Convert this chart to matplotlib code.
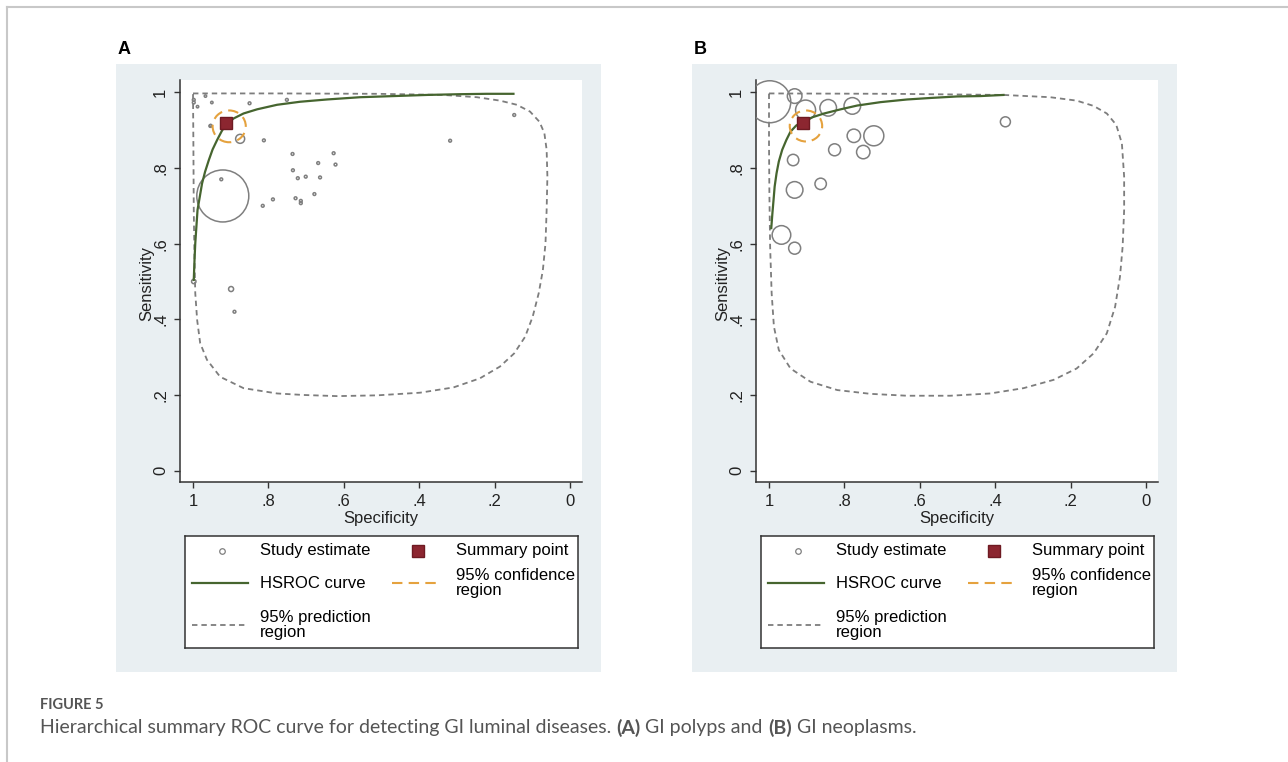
import numpy as np
import matplotlib
matplotlib.use('Agg')
import matplotlib.pyplot as plt
from matplotlib.lines import Line2D
from matplotlib.patches import Rectangle, Ellipse, Polygon

plt.rcParams['font.family'] = ['Liberation Sans', 'DejaVu Sans']

W, H = 1288, 762

# %% data -- panel A (GI polyps)
a_study_spec = [0.921, 0.875, 0.899, 0.998, 0.890, 0.925, 0.815, 0.788, 0.812, 0.736,
                0.735, 0.722, 0.701, 0.728, 0.714, 0.714, 0.678, 0.668, 0.663, 0.627,
                0.622, 0.318, 0.148, 0.751, 0.850, 0.954, 0.998, 0.998, 0.967, 0.988,
                0.950, 0.953]
a_study_sens = [0.726, 0.877, 0.480, 0.500, 0.420, 0.770, 0.700, 0.717, 0.873, 0.837,
                0.794, 0.773, 0.777, 0.720, 0.713, 0.707, 0.731, 0.813, 0.775, 0.839,
                0.809, 0.872, 0.940, 0.980, 0.971, 0.911, 0.980, 0.973, 0.990, 0.962,
                0.973, 0.912]
a_study_radius = [26, 4.5, 2.5, 2.2, 1.4, 1.4, 1.4, 1.4, 1.4, 1.4,
                  1.4, 1.4, 1.4, 1.4, 1.4, 1.4, 1.4, 1.4, 1.4, 1.4,
                  1.4, 1.4, 1.4, 1.4, 1.4, 1.4, 1.4, 1.4, 1.2, 1.2,
                  1.2, 1.2]

a_summary = (0.912, 0.918)
a_conf = (0.904, 0.910, 0.088, 0.084)  # centre x, centre y, width, height

a_curve_spec = [0.998, 0.996, 0.994, 0.991, 0.988, 0.982, 0.976, 0.968, 0.958, 0.948,
                0.936, 0.924, 0.912, 0.892, 0.866, 0.830, 0.777, 0.716, 0.645, 0.557,
                0.468, 0.380, 0.292, 0.221, 0.150]
a_curve_sens = [0.504, 0.557, 0.601, 0.645, 0.689, 0.724, 0.759, 0.790, 0.821, 0.849,
                0.874, 0.897, 0.916, 0.931, 0.944, 0.955, 0.967, 0.975, 0.981, 0.987,
                0.990, 0.993, 0.995, 0.996, 0.996]

a_pred_spec = [1.000, 0.777, 0.512, 0.336, 0.247, 0.186, 0.141, 0.106, 0.081, 0.068,
               0.062, 0.060, 0.062, 0.065, 0.072, 0.083, 0.099, 0.119, 0.148, 0.186,
               0.239, 0.309, 0.398, 0.512, 0.618, 0.707, 0.777, 0.866, 0.928, 0.963,
               0.981, 0.989, 0.994, 0.996, 0.998, 0.999]
a_pred_sens = [0.997, 0.997, 0.996, 0.993, 0.987, 0.978, 0.967, 0.949, 0.922, 0.892,
               0.848, 0.777, 0.689, 0.601, 0.530, 0.469, 0.407, 0.354, 0.310, 0.275,
               0.244, 0.220, 0.206, 0.199, 0.197, 0.200, 0.204, 0.218, 0.248, 0.293,
               0.337, 0.398, 0.469, 0.557, 0.689, 0.865]

# %% data -- panel B (GI neoplasms)
b_study_spec = [0.998, 0.932, 0.903, 0.843, 0.779, 0.826, 0.775, 0.722, 0.750, 0.936,
                0.932, 0.863, 0.967, 0.932, 0.373]
b_study_sens = [0.975, 0.990, 0.953, 0.959, 0.964, 0.848, 0.885, 0.885, 0.842, 0.821,
                0.742, 0.758, 0.623, 0.588, 0.922]
b_study_radius = [21, 7.3, 10, 8.3, 8.3, 6, 6.7, 10, 6.7, 5.7,
                  8.3, 5.7, 9.3, 6, 5]

b_summary = (0.909, 0.918)
b_conf = (0.902, 0.911, 0.086, 0.082)

b_curve_spec = [0.994, 0.991, 0.988, 0.985, 0.980, 0.974, 0.965, 0.954, 0.943, 0.928,
                0.912, 0.885, 0.854, 0.810, 0.766, 0.704, 0.634, 0.572, 0.501, 0.440,
                0.378]
b_curve_sens = [0.641, 0.680, 0.715, 0.751, 0.786, 0.817, 0.848, 0.874, 0.896, 0.912,
                0.922, 0.934, 0.944, 0.955, 0.965, 0.974, 0.981, 0.985, 0.989, 0.990,
                0.993]

b_pred_spec = [1.000, 0.678, 0.378, 0.254, 0.184, 0.139, 0.104, 0.079, 0.064, 0.058,
               0.058, 0.062, 0.069, 0.082, 0.104, 0.139, 0.184, 0.245, 0.325, 0.413,
               0.519, 0.634, 0.731, 0.819, 0.890, 0.943, 0.974, 0.987, 0.993, 0.997,
               0.999, 1.000]
b_pred_sens = [0.997, 0.996, 0.993, 0.987, 0.978, 0.964, 0.944, 0.914, 0.865, 0.777,
               0.689, 0.592, 0.513, 0.433, 0.363, 0.310, 0.270, 0.240, 0.218, 0.204,
               0.198, 0.198, 0.203, 0.213, 0.235, 0.270, 0.319, 0.381, 0.469, 0.592,
               0.733, 0.865]

ticks = [0, 0.2, 0.4, 0.6, 0.8, 1]
tick_labels = ['0', '.2', '.4', '.6', '.8', '1']

# %% styles
BG = '#e9eff2'
AXC = '#333333'
STUDY_C = '#7f7f7f'
CURVE_C = '#46652f'
SUMMARY_C = '#8c2630'
CONF_C = '#e5a23e'
PRED_C = '#7d7d7d'


def px_rect(x0, y0, x1, y1):
    return [x0 / W, 1 - y1 / H, (x1 - x0) / W, (y1 - y0) / H]


fig = plt.figure(figsize=(W / 100, H / 100), dpi=100)

# card border (top and left)
fig.add_artist(Line2D([7 / W, 1], [1 - 7 / H, 1 - 7 / H], color='#c8c8c8', lw=1.5))
fig.add_artist(Line2D([7 / W, 7 / W], [0, 1 - 7 / H], color='#c8c8c8', lw=1.5))


def draw_panel(x0, letter, study_spec, study_sens, study_r, summary, conf,
               curve_spec, curve_sens, pred_spec, pred_sens):
    # light blue graph region
    fig.add_artist(Rectangle(((x0 - 64) / W, 1 - 672 / H), 485 / W, 608 / H,
                             transform=fig.transFigure,
                             facecolor=BG, edgecolor='none', zorder=0))
    fig.text((x0 - 62) / W, 1 - 50 / H, letter, fontsize=13, fontweight='bold',
             ha='left', va='center')

    ax = fig.add_axes(px_rect(x0, 80, x0 + 402, 482))
    ax.set_facecolor('white')
    ax.set_xlim(1.0345, -0.0318)
    ax.set_ylim(-0.030, 1.0325)

    # prediction region
    pred = Polygon(np.column_stack([pred_spec, pred_sens]), closed=True, fill=False,
                   edgecolor=PRED_C, lw=1.3, linestyle=(0, (3, 2.2)), zorder=2)
    ax.add_patch(pred)

    # study estimates (marker size ~ study weight)
    sizes = (2 * np.array(study_r) * 0.72) ** 2
    ax.scatter(study_spec, study_sens, s=sizes, facecolors='none',
               edgecolors=STUDY_C, linewidths=1.1, zorder=3)

    # HSROC curve
    ax.plot(curve_spec, curve_sens, color=CURVE_C, lw=1.6, zorder=4,
            solid_joinstyle='round')

    # confidence region
    ax.add_patch(Ellipse((conf[0], conf[1]), conf[2], conf[3], fill=False,
                         edgecolor=CONF_C, lw=1.5, linestyle=(0, (5, 3)), zorder=5))

    # summary point
    ax.plot([summary[0]], [summary[1]], marker='s', markersize=9,
            markerfacecolor=SUMMARY_C, markeredgecolor='#6e1a22', linestyle='none', zorder=6)

    for side in ['top', 'right']:
        ax.spines[side].set_visible(False)
    for side in ['left', 'bottom']:
        ax.spines[side].set_color(AXC)
        ax.spines[side].set_linewidth(1.1)

    ax.set_xticks(ticks)
    ax.set_xticklabels(tick_labels)
    ax.set_yticks(ticks)
    ax.set_yticklabels(tick_labels, rotation=90, va='center')
    ax.tick_params(direction='out', length=4.5, width=1, color=AXC,
                   labelsize=12, labelcolor='#222222', pad=4)

    ax.set_xlabel('Specificity', fontsize=12, color='#222222')
    ax.xaxis.set_label_coords(0.5, -0.09)
    ax.xaxis.label.set_va('center')
    ax.set_ylabel('Sensitivity', fontsize=12, color='#222222')
    ax.yaxis.set_label_coords(-0.082, 0.495)
    ax.yaxis.label.set_va('center')

    # legend box
    lx0 = x0 + 5
    lg = fig.add_axes(px_rect(lx0, 536, lx0 + 393, 648))
    lg.set_xlim(0, 393)
    lg.set_ylim(112, 0)
    lg.set_xticks([])
    lg.set_yticks([])
    for s in lg.spines.values():
        s.set_color(AXC)
        s.set_linewidth(1.1)

    fs = 12
    lg.plot([37], [15], marker='o', markersize=4, markerfacecolor='none',
            markeredgecolor=STUDY_C, markeredgewidth=0.9)
    lg.text(75, 15, 'Study estimate', fontsize=fs, va='center')
    lg.plot([233], [15], marker='s', markersize=9, markerfacecolor=SUMMARY_C,
            markeredgecolor='#6e1a22', linestyle='none')
    lg.text(271, 15, 'Summary point', fontsize=fs, va='center')

    lg.plot([7, 63], [47, 47], color=CURVE_C, lw=1.6)
    lg.text(75, 47, 'HSROC curve', fontsize=fs, va='center')
    lg.plot([207, 255], [47, 47], color=CONF_C, lw=1.5, linestyle=(0, (5, 3)))
    lg.text(271, 47, '95% confidence\nregion', fontsize=fs, va='center', linespacing=0.95)

    lg.plot([7, 63], [89, 89], color=PRED_C, lw=1.3, linestyle=(0, (3, 2.2)))
    lg.text(75, 89, '95% prediction\nregion', fontsize=fs, va='center', linespacing=0.95)
    return ax


draw_panel(180, 'A', a_study_spec, a_study_sens, a_study_radius, a_summary, a_conf,
           a_curve_spec, a_curve_sens, a_pred_spec, a_pred_sens)
draw_panel(756, 'B', b_study_spec, b_study_sens, b_study_radius, b_summary, b_conf,
           b_curve_spec, b_curve_sens, b_pred_spec, b_pred_sens)

# caption
cap_font = ['Lato', 'DejaVu Sans']
fig.text(40 / W, 1 - 705 / H, 'FIGURE 5', fontsize=10.5, fontweight='bold',
         color='#555555', family=cap_font, va='center')

renderer = fig.canvas.get_renderer()
parts = [('Hierarchical summary ROC curve for detecting GI luminal diseases. ', 'normal'),
         ('(A)', 'bold'), (' GI polyps and ', 'normal'), ('(B)', 'bold'),
         (' GI neoplasms.', 'normal')]
x = 40 / W
for txt, wt in parts:
    t = fig.text(x, 1 - 728 / H, txt, fontsize=14, fontweight=wt, color='#555555',
                 family=cap_font, va='center')
    bb = t.get_window_extent(renderer=renderer)
    x = bb.x1 / W

fig.savefig('out.png', dpi=100)
